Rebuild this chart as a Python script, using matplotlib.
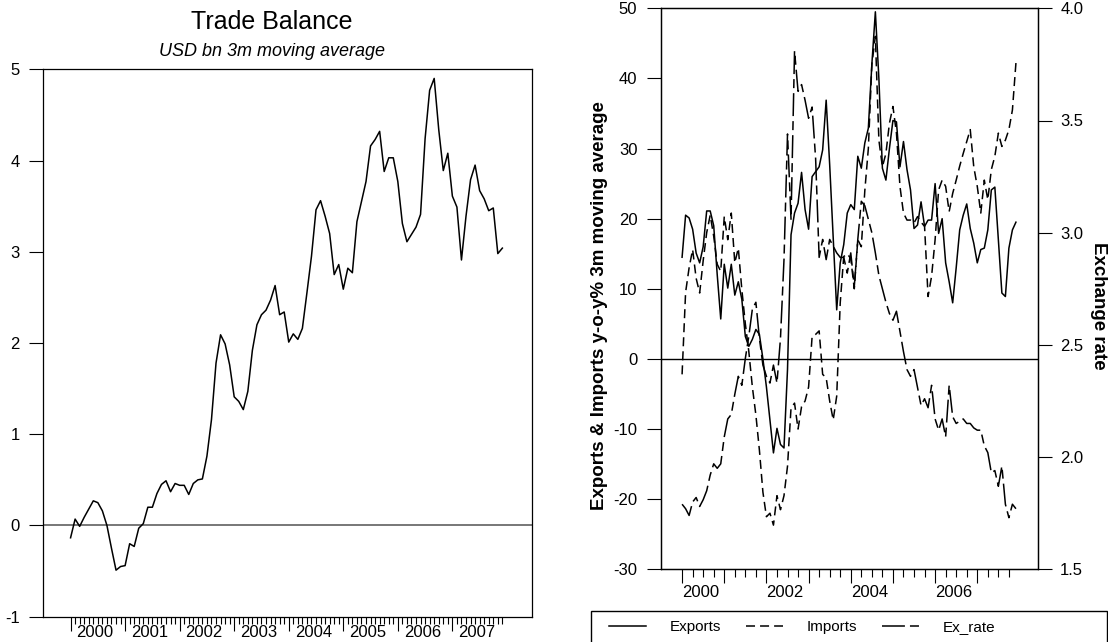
import numpy as np
import pandas as pd
import matplotlib
matplotlib.use('Agg')
import matplotlib.pyplot as plt
from matplotlib.patches import Rectangle
from matplotlib.ticker import FixedLocator, FormatStrFormatter

plt.rcParams['font.family'] = ['Liberation Sans', 'DejaVu Sans']
plt.rcParams['axes.unicode_minus'] = False

# monthly data, Jan 2000 - Dec 2007
months = pd.date_range('2000-01-01', periods=96, freq='MS')
years = np.asarray(months.year + (months.month - 1) / 12.0)

trade_balance = [
    -0.135, 0.07, -0.01, 0.09, 0.18, 0.27, 0.25, 0.16, 0.0, -0.25, -0.49, -0.45,
    -0.44, -0.2, -0.23, -0.03, 0.02, 0.2, 0.2, 0.35, 0.45, 0.49, 0.37, 0.46,
    0.44, 0.44, 0.34, 0.46, 0.5, 0.51, 0.76, 1.16, 1.78, 2.09, 1.99, 1.76,
    1.41, 1.36, 1.27, 1.47, 1.92, 2.2, 2.31, 2.36, 2.47, 2.63, 2.31, 2.34,
    2.01, 2.1, 2.04, 2.16, 2.55, 2.95, 3.46, 3.56, 3.39, 3.2, 2.75, 2.86,
    2.59, 2.82, 2.77, 3.33, 3.55, 3.77, 4.16, 4.23, 4.32, 3.88, 4.03, 4.03,
    3.77, 3.31, 3.11, 3.19, 3.27, 3.41, 4.24, 4.77, 4.9, 4.34, 3.89, 4.08,
    3.61, 3.49, 2.91, 3.39, 3.79, 3.95, 3.67, 3.58, 3.45, 3.48, 2.98, 3.04,
]

exports = [
    14.5, 20.5, 20.1, 18.5, 15.1, 13.7, 16.0, 21.1, 21.1, 19.0, 12.0, 5.7,
    13.5, 10.1, 13.5, 9.1, 11.0, 8.5, 3.2, 1.8, 2.8, 4.2, 3.5, 0.0,
    -4.0, -8.7, -13.4, -9.9, -12.2, -12.7, -1.5, 17.7, 20.8, 22.2, 26.6, 21.3,
    18.5, 26.0, 26.7, 27.4, 29.8, 36.9, 27.7, 17.3, 7.0, 13.7, 16.3, 20.8,
    22.0, 21.3, 28.9, 27.2, 30.8, 32.9, 42.0, 49.5, 40.0, 27.2, 25.5, 30.0,
    34.0, 33.8, 27.4, 31.0, 27.0, 24.1, 18.6, 19.1, 22.4, 18.9, 19.8, 19.8,
    25.0, 17.9, 20.0, 13.7, 11.0, 8.0, 13.0, 18.4, 20.5, 22.1, 18.6, 16.5,
    13.7, 15.6, 15.8, 18.4, 24.1, 24.5, 17.0, 9.4, 8.9, 15.8, 18.4, 19.5,
]

imports = [
    -2.2, 9.5, 13.0, 15.6, 11.5, 9.4, 14.0, 18.0, 20.5, 17.5, 13.5, 12.5,
    20.3, 17.0, 20.8, 13.7, 15.8, 9.9, 5.0, 1.0, -4.0, -8.0, -13.0, -19.0,
    -22.5, -22.0, -23.7, -19.5, -21.5, -19.5, -15.3, -7.0, -6.3, -10.0, -6.8, -6.0,
    -4.0, 3.2, 3.5, 4.0, -2.2, -2.7, -6.0, -8.7, -5.3, 8.0, 14.6, 15.0,
    14.3, 10.0, 17.0, 16.0, 24.0, 30.0, 42.0, 46.0, 31.2, 27.4, 29.3, 33.6,
    36.0, 32.2, 24.6, 20.8, 19.8, 19.8, 19.4, 20.3, 19.5, 18.9, 8.9, 11.8,
    17.0, 24.1, 25.5, 24.6, 21.0, 23.6, 25.5, 27.5, 29.3, 31.0, 32.7, 27.4,
    24.6, 20.8, 25.5, 22.7, 27.0, 28.9, 32.2, 30.3, 31.2, 32.7, 35.5, 42.2,
]

ex_rate = [
    1.79, 1.77, 1.74, 1.80, 1.82, 1.78, 1.81, 1.85, 1.92, 1.97, 1.95, 1.97,
    2.09, 2.17, 2.19, 2.28, 2.36, 2.32, 2.44, 2.54, 2.66, 2.69, 2.53, 2.41,
    2.36, 2.33, 2.41, 2.33, 2.53, 2.88, 3.44, 3.06, 3.81, 3.63, 3.66, 3.59,
    3.51, 3.56, 3.33, 2.89, 2.97, 2.88, 2.97, 2.94, 2.91, 2.89, 2.89, 2.82,
    2.91, 2.76, 2.97, 3.14, 3.12, 3.06, 3.00, 2.91, 2.81, 2.75, 2.69, 2.64,
    2.61, 2.65, 2.56, 2.47, 2.39, 2.36, 2.39, 2.31, 2.23, 2.26, 2.22, 2.32,
    2.17, 2.12, 2.17, 2.09, 2.32, 2.18, 2.15, 2.16, 2.17, 2.15, 2.15, 2.13,
    2.12, 2.12, 2.05, 2.02, 1.93, 1.94, 1.87, 1.96, 1.79, 1.73, 1.79, 1.77,
]

left_year_labels = ['2000', '2001', '2002', '2003', '2004', '2005', '2006', '2007']
right_year_labels = ['2000', '', '2002', '', '2004', '', '2006', '']
left_yticks = [-1, 0, 1, 2, 3, 4, 5]
right_yticks = [-30, -20, -10, 0, 10, 20, 30, 40, 50]
rate_yticks = [1.5, 2.0, 2.5, 3.0, 3.5, 4.0]

W, H = 1108, 642


def box(l, t, r, b):
    return [l / W, 1 - b / H, (r - l) / W, (b - t) / H]


fig = plt.figure(figsize=(W / 100, H / 100), dpi=100)

# ---- left panel: trade balance
ax1 = fig.add_axes(box(43.3, 69.3, 532, 616.7))
ax1.plot(years, trade_balance, color='black', lw=1.1)
ax1.axhline(0, color='#606060', lw=1.2, zorder=1)
ax1.set_xlim(1999.5, 2008.46)
ax1.set_ylim(-1, 5)
ax1.set_yticks(left_yticks)
ax1.tick_params(axis='y', direction='out', length=10, width=0.8, pad=7, labelsize=12)
ax1.set_xticks([y + 0.45 for y in range(2000, 2008)], left_year_labels)
ax1.tick_params(axis='x', length=0, pad=6, labelsize=12)
for s in ax1.spines.values():
    s.set_linewidth(0.9)

sec = ax1.secondary_xaxis('bottom')
sec.spines['bottom'].set_visible(False)
sec.set_xticks(list(range(2000, 2008)))
sec.xaxis.set_minor_locator(FixedLocator(years))
sec.tick_params(which='major', direction='out', length=10, width=0.8, labelbottom=False)
sec.tick_params(which='minor', direction='out', length=5, width=0.8)

fig.text(272 / W, 1 - 22 / H, 'Trade Balance', ha='center', va='center', fontsize=18)
fig.text(272 / W, 1 - 52 / H, 'USD bn 3m moving average', ha='center', va='center',
         fontsize=13, style='italic')

# ---- right panel: exports, imports, exchange rate
ax2 = fig.add_axes(box(661, 8.3, 1038, 569.3))
l_exp, = ax2.plot(years, exports, color='black', lw=1.1, label='Exports')
l_imp, = ax2.plot(years, imports, color='black', lw=1.1, dashes=(5.9, 3.3), label='Imports')
ax2.axhline(0, color='black', lw=1.0, zorder=1)
ax2.set_xlim(1999.5, 2008.44)
ax2.set_ylim(-30, 50)
ax2.set_yticks(right_yticks)
ax2.tick_params(axis='y', direction='out', length=10, width=0.8, pad=7, labelsize=12)
ax2.set_xticks(list(range(2000, 2008)), right_year_labels)
ax2.xaxis.set_minor_locator(FixedLocator(2000 + np.arange(32) / 4))
ax2.tick_params(axis='x', which='major', direction='out', length=10, width=0.8, pad=1, labelsize=12)
ax2.tick_params(axis='x', which='minor', direction='out', length=6, width=0.8)
for lab in ax2.get_xticklabels():
    lab.set_horizontalalignment('left')
ax2.set_ylabel('Exports & Imports y-o-y% 3m moving average', fontsize=13.5,
               fontweight='bold', va='center')
ax2.yaxis.set_label_coords((600 - 661) / 377, 0.471)

ax3 = ax2.twinx()
l_ex, = ax3.plot(years, ex_rate, color='black', lw=1.1, dashes=(15, 3.3, 5.9, 3.3), label='Ex_rate')
ax3.set_ylim(1.5, 4.0)
ax3.set_yticks(rate_yticks)
ax3.yaxis.set_major_formatter(FormatStrFormatter('%.1f'))
ax3.tick_params(axis='y', direction='out', length=10, width=0.8, pad=6, labelsize=12)
ax3.set_ylabel('Exchange rate', fontsize=13.5, fontweight='bold', rotation=-90, va='center')
ax3.yaxis.set_label_coords((1098 - 661) / 377, 0.469)
for a in (ax2, ax3):
    for s in a.spines.values():
        s.set_linewidth(0.9)

# legend box below the right panel
fig.patches.append(Rectangle((591 / W, -0.02), (1106.5 - 591) / W, 0.02 + 1 - 611 / H,
                             transform=fig.transFigure, fill=False, edgecolor='black',
                             lw=1.0, clip_on=False))
fig.legend(handles=[l_exp, l_imp, l_ex], labels=['Exports', 'Imports', 'Ex_rate'],
           loc='center left', bbox_to_anchor=(609 / W, 1 - 627 / H), ncol=3,
           frameon=False, fontsize=11, handlelength=2.42, handletextpad=1.54,
           columnspacing=1.64, borderpad=0, borderaxespad=0)

fig.savefig('out.png', dpi=100)
